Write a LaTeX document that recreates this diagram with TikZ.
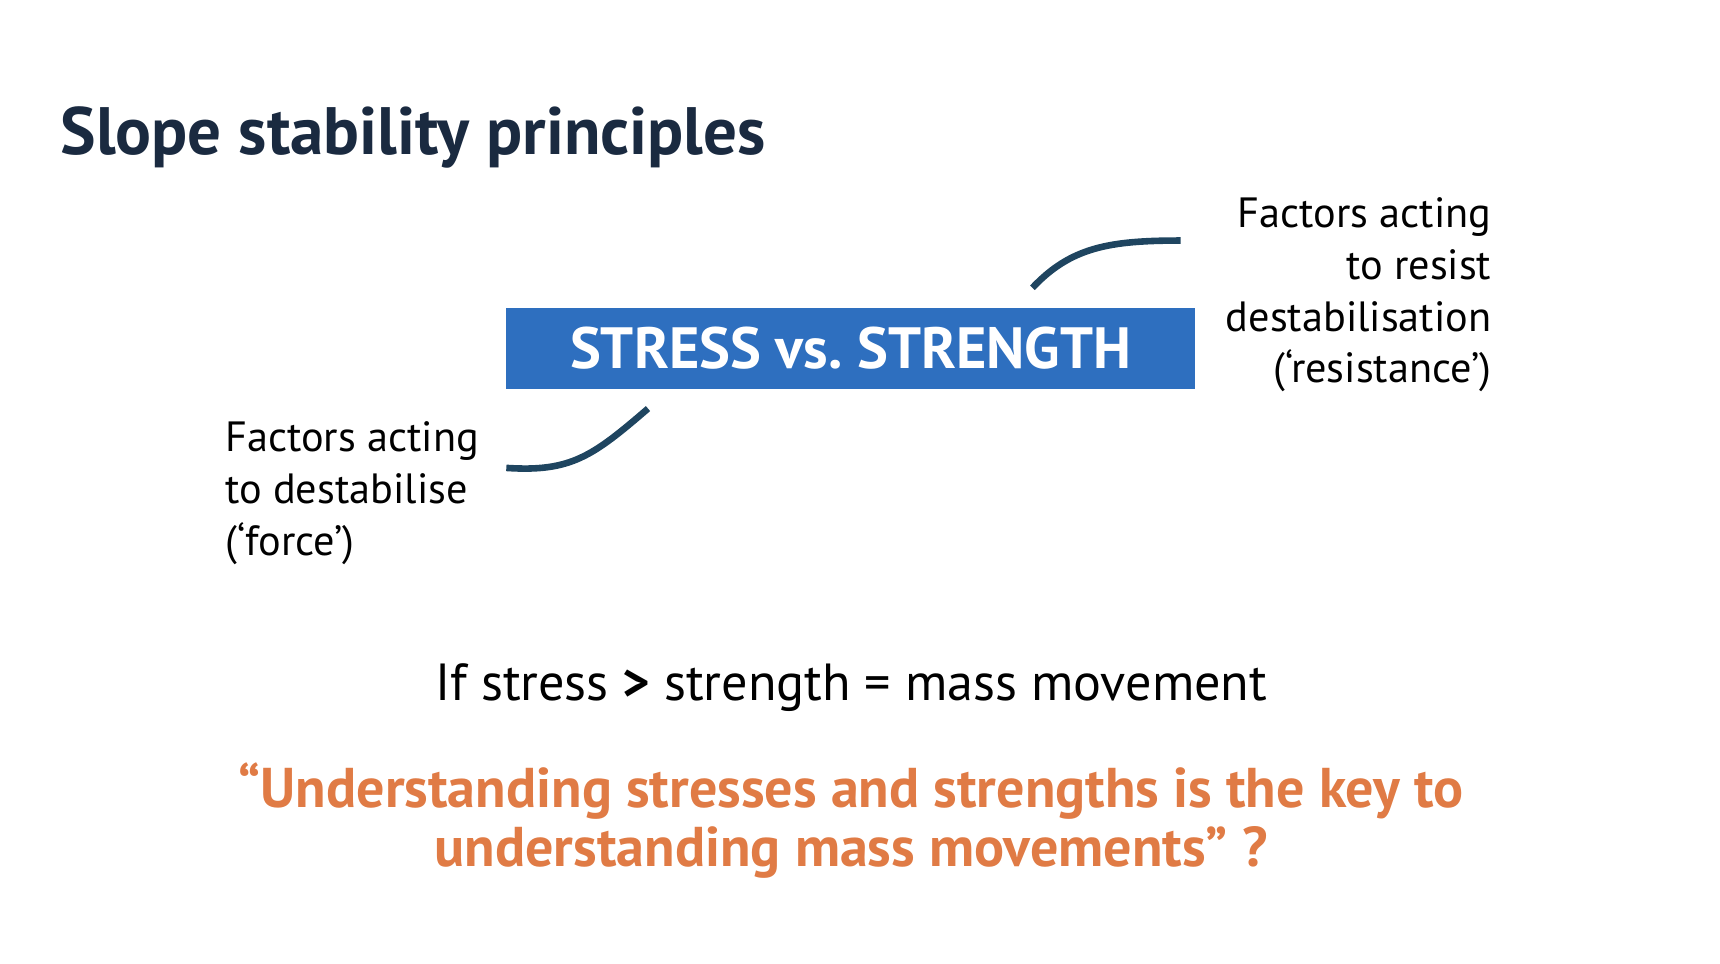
\documentclass[tikz,border=0pt]{standalone}
\usepackage{fontspec}
\setmainfont{PT Sans}
\definecolor{navy}{HTML}{1A2A40}
\definecolor{boxblue}{HTML}{2E6FBF}
\definecolor{line}{HTML}{1F4560}
\definecolor{orange}{HTML}{E07B45}
\begin{document}
\begin{tikzpicture}[x=1pt,y=-1pt,
  conn/.style={line,line width=6pt},
  lbl/.style={inner sep=0pt,font=\fontsize{38.5}{47}\selectfont,align=left}]
\useasboundingbox (0,0) rectangle (1566,877);
\node[anchor=west,inner sep=0pt,text=navy,font=\fontsize{61}{70}\selectfont\bfseries] (title) at (55,125) {Slope stability principles};
\node[fill=boxblue,minimum width=627pt,minimum height=74pt,inner sep=0pt,text=white,font=\fontsize{53}{60}\selectfont\bfseries] (box) at (774.5,317) {STRESS vs.\ STRENGTH};
\coordinate (u1) at (940,262); \coordinate (u2) at (1075,219);
\draw[conn] (u1) .. controls (975,225) and (1010,219) .. (u2);
\coordinate (l1) at (590,372); \coordinate (l2) at (461,426);
\draw[conn] (l1) .. controls (540,415) and (520,430) .. (l2);
\node[lbl,align=right,anchor=north east] (right) at (1358,180) {Factors acting\\to resist\\destabilisation\\(‘resistance’)};
\node[lbl,anchor=north west] (left) at (205,384) {Factors acting\\to destabilise\\(‘force’)};
\node[inner sep=0pt,font=\fontsize{47.5}{55}\selectfont] (eq) at (775,626) {If stress \textbf{>} strength = mass movement};
\node[inner sep=0pt,text=orange,align=center,font=\fontsize{51}{53}\selectfont\bfseries] (quote) at (775,747) {“Understanding stresses and strengths is the key to\\understanding mass movements” ?};
\end{tikzpicture}
\end{document}
